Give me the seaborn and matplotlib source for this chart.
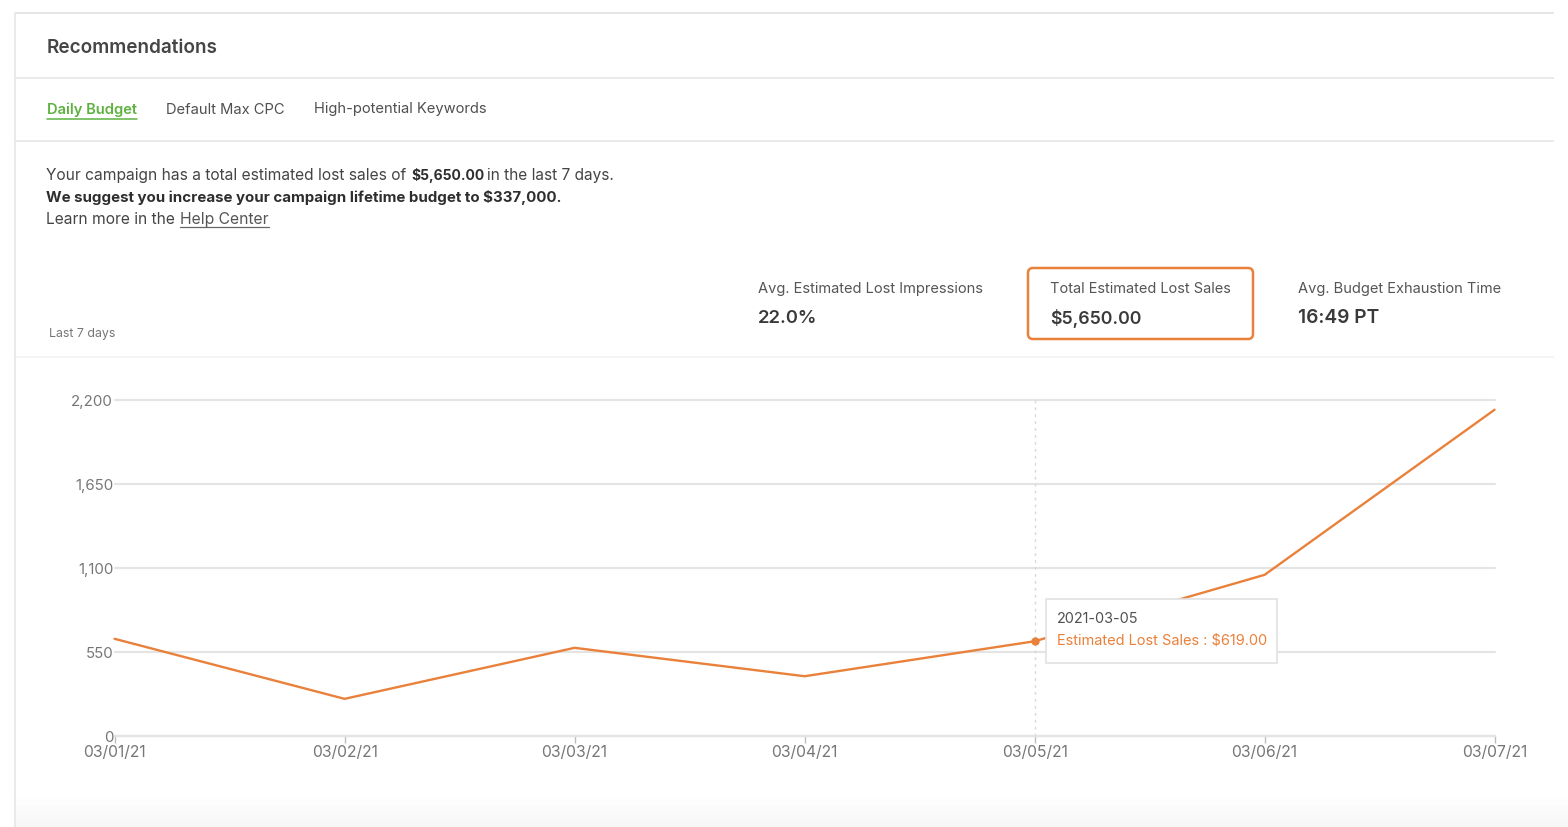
import pandas as pd
import seaborn as sns
import matplotlib.pyplot as plt
from matplotlib.patches import FancyBboxPatch, Rectangle

# values
dates = ["2021-03-01", "2021-03-02", "2021-03-03", "2021-03-04", "2021-03-05", "2021-03-06", "2021-03-07"]
lost_sales = [635, 242, 576, 390, 619, 1054, 2135]
date_labels = ["03/01/21", "03/02/21", "03/03/21", "03/04/21", "03/05/21", "03/06/21", "03/07/21"]
y_ticks = [0, 550, 1100, 1650, 2200]
y_labels = ["0", "550", "1,100", "1,650", "2,200"]
hover_index = 4

ORANGE = "#E9813B"
GREEN = "#5DB13E"
DARK = "#3F3F3F"
GREY = "#767676"
LINE = "#E4E4E4"
W, H = 1568, 828

sns.set_theme(style="white")
plt.rcParams["font.family"] = ["Inter", "DejaVu Sans"]

fig = plt.figure(figsize=(W / 100, H / 100), dpi=100)

# chart area, pixel box from the reference
ax = fig.add_axes([114.6 / W, 1 - 736.8 / H, (1495 - 115) / W, (736 - 400) / H])
df = pd.DataFrame({"date": pd.to_datetime(dates), "sales": lost_sales})
sns.lineplot(data=df, x="date", y="sales", color=ORANGE, linewidth=1.7, ax=ax, zorder=3, clip_on=False)
ax.set_xlim(df["date"].iloc[0], df["date"].iloc[-1])
ax.set_ylim(0, 2200)
ax.set_xticks(df["date"])
ax.set_xticklabels(date_labels, fontsize=11.3, color=GREY)
ax.set_yticks(y_ticks)
ax.set_yticklabels(y_labels, fontsize=10.8, color=GREY)
ax.tick_params(axis="x", length=5, width=1, color="#BDBDBD", pad=1, bottom=True)
ax.tick_params(axis="y", length=0, pad=1)
ax.set_xlabel("")
ax.set_ylabel("")
ax.grid(axis="y", color=LINE, linewidth=1.6)
ax.grid(axis="x", visible=False)
ax.set_axisbelow(True)
for gl in ax.get_ygridlines():
    gl.set_clip_on(False)
sns.despine(ax=ax, left=True, right=True, top=True, bottom=False)
ax.spines["bottom"].set_color(LINE)
ax.spines["bottom"].set_linewidth(1.6)
ax.patch.set_alpha(0)

# hovered day
hover_x = df["date"].iloc[hover_index]
ax.axvline(hover_x, color="#D8D8D8", linewidth=1, linestyle=(0, (2, 3)), zorder=2)
ax.plot([hover_x], [lost_sales[hover_index]], "o", color=ORANGE, markersize=5, zorder=4)

# page furniture in pixel coords
page = fig.add_axes([0, 0, 1, 1], zorder=5)
page.set_xlim(0, W)
page.set_ylim(H - 1, -1)
page.axis("off")
page.patch.set_alpha(0)

bg = fig.add_axes([0, 0, 1, 1], zorder=-1)
bg.set_xlim(0, W)
bg.set_ylim(H, 0)
bg.axis("off")
for i, c in enumerate(["#FDFDFD", "#FBFBFB", "#F9F9F9", "#F7F7F7"]):
    bg.add_patch(Rectangle((15, 800 + i * 7), W, 7, color=c, lw=0))

for y, x1, col, lw in [(13, 1554, "#E6E6E6", 1.4), (78, 1554, "#E6E6E6", 1.2), (141, 1554, "#E6E6E6", 1.2), (357, 1554, "#F2F2F2", 1.2)]:
    page.plot([15, x1], [y, y], color=col, lw=lw, solid_capstyle="butt")
page.plot([15, 15], [13, 828], color="#E6E6E6", lw=1.2)


def label(x, y, s, size=11.5, color=DARK, weight="normal", **kw):
    return page.text(x, y, s, fontsize=size, color=color, fontweight=weight, va="center", ha="left", **kw)


label(47, 47, "Recommendations", size=13.6, color="#454545", weight="semibold")
label(47, 108.5, "Daily Budget", size=10.6, color=GREEN, weight="semibold")
page.plot([47, 137], [119, 119], color=GREEN, lw=1.1)
label(166, 108.5, "Default Max CPC", size=10.6, color="#505050")
label(314, 108.5, "High-potential Keywords", size=10.6, color="#505050")

label(46, 174.5, "Your campaign has a total estimated lost sales of", size=11.2, color="#444444")
label(411.5, 174.5, "$5,650.00", size=10, color="#2E2E2E", weight="bold")
label(487, 174.5, "in the last 7 days.", size=11.1, color="#444444")
label(46, 197, "We suggest you increase your campaign lifetime budget to $337,000.", size=10.83, color="#2E2E2E", weight="bold")
label(46, 219, "Learn more in the", size=11.2, color="#444444")
label(180, 219, "Help Center", size=11.3, color="#555555")
page.plot([180, 269], [226.5, 226.5], color="#666666", lw=0.9)
label(49, 333.5, "Last 7 days", size=8.9, color=GREY)

# summary cards
page.add_patch(FancyBboxPatch((1028, 268), 225, 71, boxstyle="round,pad=0,rounding_size=5",
                              fc="white", ec=ORANGE, lw=1.8))
label(758, 288.5, "Avg. Estimated Lost Impressions", size=10.55, color="#555555")
label(758, 317.5, "22.0%", size=13.3, color="#3A3A3A", weight="semibold")
label(1050, 288.5, "Total Estimated Lost Sales", size=10.5, color="#555555")
label(1050, 317.5, "$5,650.00", size=12.8, color="#3A3A3A", weight="semibold")
label(1298, 288.5, "Avg. Budget Exhaustion Time", size=10.55, color="#555555")
label(1298, 317.5, "16:49 PT", size=13.8, color="#3A3A3A", weight="semibold")

# tooltip sits on top of the line
page.add_patch(Rectangle((1046, 599), 231, 64, fc="white", ec="#E2E2E2", lw=1.2))
label(1057, 618.5, "2021-03-05", size=10.35, color="#505050")
label(1057, 640, "Estimated Lost Sales : $619.00", size=10.5, color=ORANGE)

fig.savefig("out.png", dpi=100)
